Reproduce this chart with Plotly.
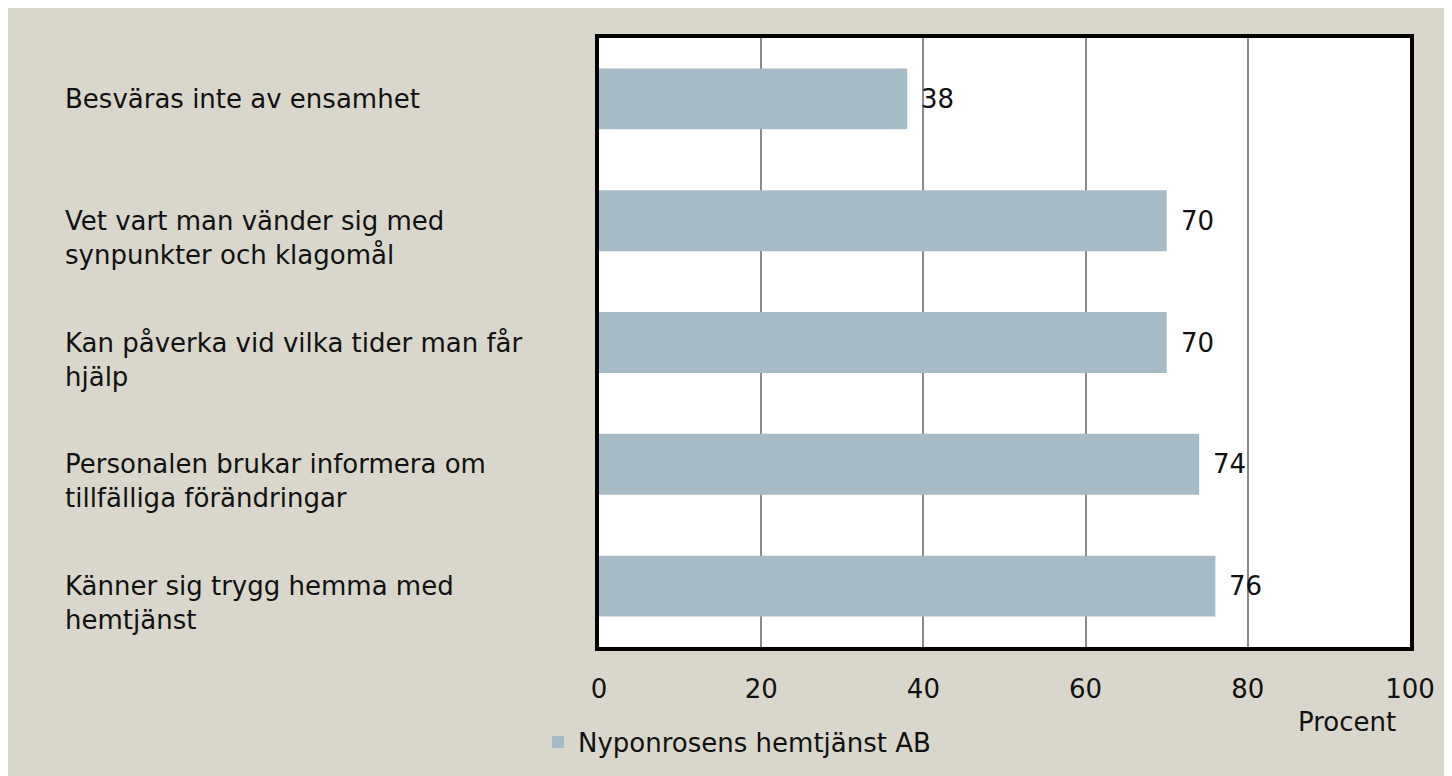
import plotly.graph_objects as go

categories = [
    "Besväras inte av ensamhet",
    "Vet vart man vänder sig med<br>synpunkter och klagomål",
    "Kan påverka vid vilka tider man får<br>hjälp",
    "Personalen brukar informera om<br>tillfälliga förändringar",
    "Känner sig trygg hemma med<br>hemtjänst",
]
values = [38, 70, 70, 74, 76]
series_name = "Nyponrosens hemtjänst AB"
x_ticks = [0, 20, 40, 60, 80, 100]
x_title = "Procent"

FONT = "DejaVu Sans"
FS = 26
TXT = "#111111"
BG = "#D9D7CB"
W, H = 1444, 768
L, R, T, B = 591, 42, 30, 128
pw, ph = W - L - R, H - T - B

def px_x(p):
    return (p - L) / pw

def px_y(p):
    return (H - B - p) / ph

fig = go.Figure()
fig.add_trace(go.Bar(
    y=categories, x=values, orientation="h",
    name=series_name,
    marker=dict(color="#A7BBC6", line=dict(width=0)),
    showlegend=True,
))

# value labels
for c, v in zip(categories, values):
    fig.add_annotation(x=v, y=c, xref="x", yref="y", text=str(v),
                       showarrow=False, xanchor="left", yanchor="middle",
                       xshift=12,
                       font=dict(family=FONT, size=FS, color=TXT))

# category labels (left-aligned)
for c in categories:
    fig.add_annotation(x=px_x(55), y=c, xref="paper", yref="y", text=c,
                       showarrow=False, xanchor="left", yanchor="top",
                       align="left", yshift=17,
                       font=dict(family=FONT, size=FS, color=TXT))

fig.add_annotation(x=px_x(1339), y=px_y(715), xref="paper", yref="paper",
                   text=x_title, showarrow=False,
                   xanchor="center", yanchor="middle",
                   font=dict(family=FONT, size=FS, color=TXT))

fig.update_layout(
    width=W, height=H,
    margin=dict(l=L, r=R, t=T, b=B),
    paper_bgcolor=BG,
    plot_bgcolor="white",
    bargap=0.5,
    font=dict(family=FONT, size=FS, color=TXT),
    legend=dict(orientation="h", x=px_x(530), xanchor="left",
                y=px_y(734), yanchor="middle", itemwidth=30,
                bgcolor="rgba(0,0,0,0)", font=dict(family=FONT, size=FS, color=TXT),
                itemclick=False),
    xaxis=dict(range=[0, 100], tickvals=x_ticks, showgrid=True,
               gridcolor="#8A8A8A", gridwidth=1.5, zeroline=False,
               showline=True, mirror=True, linecolor="black", linewidth=4,
               ticks="", ticklabelstandoff=16,
               tickfont=dict(family=FONT, size=FS, color=TXT)),
    yaxis=dict(autorange="reversed", showticklabels=False, showgrid=False,
               showline=True, mirror=True, linecolor="black", linewidth=4,
               ticks="", zeroline=False),
)

fig.write_html("out.html")
